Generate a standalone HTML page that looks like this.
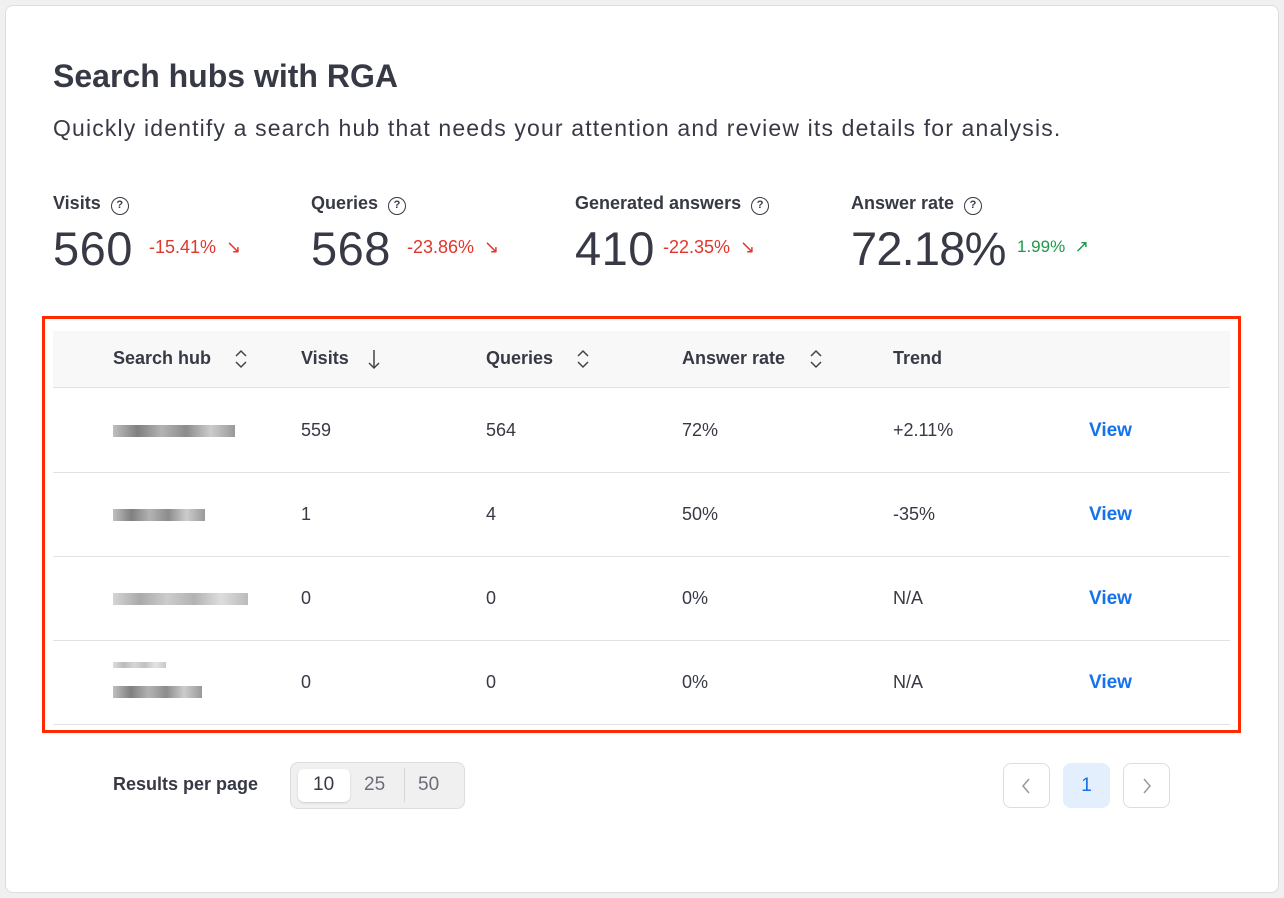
<!DOCTYPE html>
<html><head><meta charset="utf-8"><style>
*{margin:0;padding:0;box-sizing:border-box}
body{width:1284px;height:898px;background:#f0f0f1;font-family:"Liberation Sans",sans-serif;color:#373a45;position:relative;overflow:hidden}
.card{position:absolute;left:5px;top:5px;width:1274px;height:888px;background:#fff;border:1px solid #dcdde1;border-radius:8px}
.a{position:absolute;white-space:nowrap}
h1{position:absolute;left:53px;top:58px;font-size:32px;font-weight:bold;color:#373a45;letter-spacing:0px}
.sub{left:53px;top:115px;font-size:23px;color:#373a45;letter-spacing:1.15px}
.ml{font-size:18px;font-weight:bold;top:193px}
.q{display:inline-block;width:18px;height:18px;border:1.6px solid #373a45;border-radius:50%;font-size:11px;text-align:center;line-height:15px;margin-left:10px;vertical-align:1px;font-weight:bold}
.big{font-size:47px;top:221px;color:#373a45;letter-spacing:0.5px}
.dn{font-size:18px;color:#e0362b;top:237px}
.up{font-size:17px;color:#1a9a48;top:237px}
.red{position:absolute;left:42px;top:316px;width:1199px;height:417px;border:3px solid #ff2a00}
.hd{position:absolute;left:53px;top:331px;width:1177px;height:57px;background:#f8f8f8;border-bottom:1px solid #e1e2e6}
.th{font-size:18px;font-weight:bold;top:348px}
.td{font-size:18px;top:420px}
.line{position:absolute;left:53px;width:1177px;height:1px;background:#e1e2e6}
.v{color:#1372ec;font-weight:bold;font-size:19px}
.bl{position:absolute;height:12px;background:linear-gradient(90deg,#aaa,#555 20%,#999 40%,#666 60%,#bbb 80%,#777);opacity:.75}
svg{position:absolute}
</style></head><body>
<div class="card"></div>
<h1>Search hubs with RGA</h1>
<div class="a sub">Quickly identify a search hub that needs your attention and review its details for analysis.</div>

<div class="a ml" style="left:53px">Visits<span class="q">?</span></div>
<div class="a ml" style="left:311px">Queries<span class="q">?</span></div>
<div class="a ml" style="left:575px">Generated answers<span class="q">?</span></div>
<div class="a ml" style="left:851px">Answer rate<span class="q">?</span></div>

<div class="a big" style="left:53px">560</div><div class="a dn" style="left:149px">-15.41% &nbsp;↘</div>
<div class="a big" style="left:311px">568</div><div class="a dn" style="left:407px">-23.86% &nbsp;↘</div>
<div class="a big" style="left:575px">410</div><div class="a dn" style="left:663px">-22.35% &nbsp;↘</div>
<div class="a big" style="left:851px;letter-spacing:-0.8px">72.18%</div><div class="a up" style="left:1017px">1.99% &nbsp;↗</div>

<div class="hd"></div>
<div class="a th" style="left:113px">Search hub</div>
<svg style="left:233px;top:348px" width="16" height="22"><path d="M3 8 L8 3 L13 8 M3 14 L8 19 L13 14" fill="none" stroke="#444" stroke-width="1.5"/></svg>
<div class="a th" style="left:301px">Visits</div>
<svg style="left:366px;top:348px" width="16" height="22"><path d="M8 2 V20 M3 15 L8 20 L13 15" fill="none" stroke="#444" stroke-width="1.5"/></svg>
<div class="a th" style="left:486px">Queries</div>
<svg style="left:575px;top:348px" width="16" height="22"><path d="M3 8 L8 3 L13 8 M3 14 L8 19 L13 14" fill="none" stroke="#444" stroke-width="1.5"/></svg>
<div class="a th" style="left:682px">Answer rate</div>
<svg style="left:808px;top:348px" width="16" height="22"><path d="M3 8 L8 3 L13 8 M3 14 L8 19 L13 14" fill="none" stroke="#444" stroke-width="1.5"/></svg>
<div class="a th" style="left:893px">Trend</div>

<div class="line" style="top:472px"></div>
<div class="line" style="top:556px"></div>
<div class="line" style="top:640px"></div>
<div class="line" style="top:724px"></div>

<div class="bl" style="left:113px;top:425px;width:122px"></div>
<div class="a td" style="left:301px">559</div><div class="a td" style="left:486px">564</div><div class="a td" style="left:682px">72%</div><div class="a td" style="left:893px">+2.11%</div><div class="a td v" style="left:1089px">View</div>

<div class="bl" style="left:113px;top:509px;width:92px"></div>
<div class="a td" style="left:301px;top:504px">1</div><div class="a td" style="left:486px;top:504px">4</div><div class="a td" style="left:682px;top:504px">50%</div><div class="a td" style="left:893px;top:504px">-35%</div><div class="a td v" style="left:1089px;top:504px">View</div>

<div class="bl" style="left:113px;top:593px;width:135px;opacity:.5"></div>
<div class="a td" style="left:301px;top:588px">0</div><div class="a td" style="left:486px;top:588px">0</div><div class="a td" style="left:682px;top:588px">0%</div><div class="a td" style="left:893px;top:588px">N/A</div><div class="a td v" style="left:1089px;top:588px">View</div>

<div class="bl" style="left:113px;top:662px;width:53px;height:6px;opacity:.4"></div>
<div class="bl" style="left:113px;top:686px;width:89px"></div>
<div class="a td" style="left:301px;top:672px">0</div><div class="a td" style="left:486px;top:672px">0</div><div class="a td" style="left:682px;top:672px">0%</div><div class="a td" style="left:893px;top:672px">N/A</div><div class="a td v" style="left:1089px;top:672px">View</div>

<div class="red"></div>

<div class="a" style="left:113px;top:774px;font-size:18px;font-weight:bold">Results per page</div>
<div class="a" style="left:290px;top:762px;width:175px;height:47px;background:#f0f0f1;border:1px solid #dcdde1;border-radius:8px"></div>
<div class="a" style="left:298px;top:769px;width:52px;height:33px;background:#fff;border-radius:6px;box-shadow:0 1px 2px rgba(0,0,0,.15)"></div>
<div class="a" style="left:404px;top:768px;width:1px;height:34px;background:#d5d6da"></div>
<div class="a" style="left:313px;top:774px;font-size:19px">10</div>
<div class="a" style="left:364px;top:774px;font-size:19px;color:#6b6e78">25</div>
<div class="a" style="left:418px;top:774px;font-size:19px;color:#6b6e78">50</div>

<div class="a" style="left:1003px;top:763px;width:47px;height:45px;border:1px solid #dcdde1;border-radius:8px"></div>
<svg style="left:1019px;top:777px" width="14" height="18"><path d="M10 2 L4 9 L10 16" fill="none" stroke="#999" stroke-width="1.5"/></svg>
<div class="a" style="left:1063px;top:763px;width:47px;height:45px;background:#e3effd;border-radius:8px;text-align:center;line-height:45px;font-size:19px;color:#1372ec">1</div>
<div class="a" style="left:1123px;top:763px;width:47px;height:45px;border:1px solid #dcdde1;border-radius:8px"></div>
<svg style="left:1140px;top:777px" width="14" height="18"><path d="M4 2 L10 9 L4 16" fill="none" stroke="#999" stroke-width="1.5"/></svg>
</body></html>
